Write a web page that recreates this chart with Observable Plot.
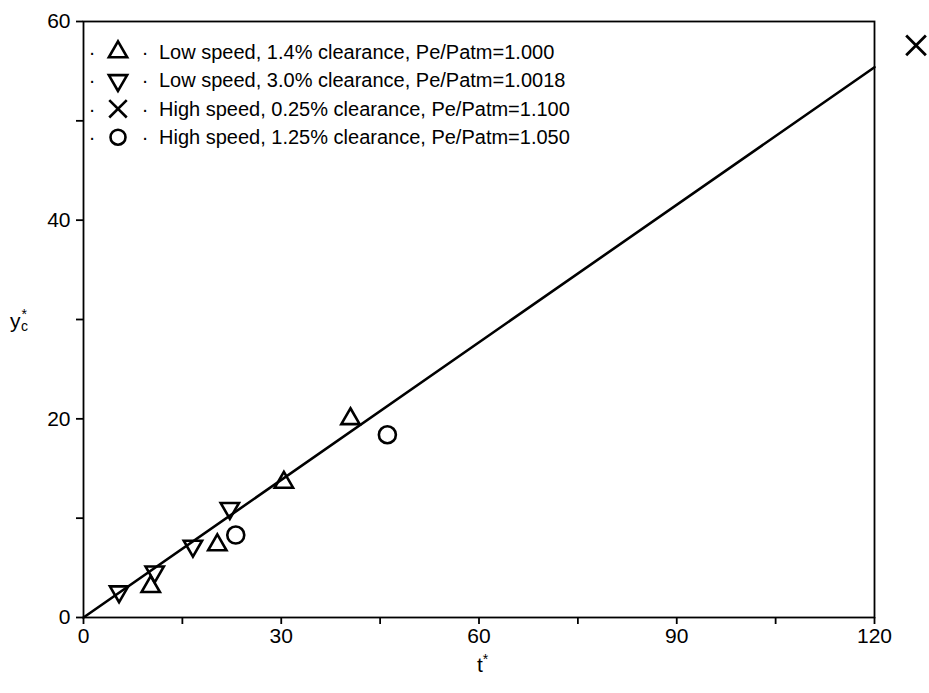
<!DOCTYPE html>
<html>
<head>
<meta charset="utf-8">
<script src="https://cdn.jsdelivr.net/npm/d3@7"></script>
<script src="https://cdn.jsdelivr.net/npm/@observablehq/plot@0.6"></script>
<style>
  html, body { margin: 0; padding: 0; background: #fff; }
  svg { display: block; }
  svg [aria-label$="tick label"] text { font-size: 21px !important; }
  svg text.lg { font-size: 20px !important; text-anchor: start; }
  svg text.lgc { font-size: 20px !important; text-anchor: middle; }
  svg text.ax { font-size: 21px !important; }
  svg tspan.sm { font-size: 14px !important; }
</style>
</head>
<body>
<div id="chart"></div>
<script>
// Series (t*, y_c*)
const low14T = [10.2, 20.3, 30.4, 40.5];
const low14Y = [3.1, 7.3, 13.6, 20.0];
const low30T = [5.4, 10.8, 16.6, 22.2];
const low30Y = [2.6, 4.6, 7.2, 11.0];
const high025T = [126.3];
const high025Y = [57.6];
const high125T = [23.1, 46.1];
const high125Y = [8.3, 18.4];
// Fitted line endpoints
const fitT = [0, 120];
const fitY = [0, 55.4];
// Ticks
const xMajor = [0, 30, 60, 90, 120];
const xMinor = [15, 45, 75, 105];
const yMajor = [0, 20, 40, 60];
const yMinor = [10, 30, 50];
// Legend
const legendLabels = [
  "Low speed, 1.4% clearance, Pe/Patm=1.000",
  "Low speed, 3.0% clearance, Pe/Patm=1.0018",
  "High speed, 0.25% clearance, Pe/Patm=1.100",
  "High speed, 1.25% clearance, Pe/Patm=1.050"
];

const zip = (xs, ys) => xs.map((x, i) => ({t: x, y: ys[i]}));
const font = "'Liberation Sans', Arial, Helvetica, sans-serif";

const plot = Plot.plot({
  width: 929,
  height: 693,
  marginLeft: 83,
  marginRight: 55,
  marginTop: 21,
  marginBottom: 76,
  style: {fontFamily: font, fontSize: "21px", color: "#000", background: "#fff"},
  x: {domain: [0, 120]},
  y: {domain: [0, 60]},
  marks: [
    Plot.frame({stroke: "#000", strokeWidth: 1.8}),
    Plot.axisX({ticks: xMajor, tickSize: 7, tickPadding: 4, strokeWidth: 1.8, label: null}),
    Plot.axisX({ticks: xMinor, tickSize: 7, tickFormat: () => "", strokeWidth: 1.8, label: null}),
    Plot.axisY({ticks: yMajor, tickSize: 7, tickPadding: 6, strokeWidth: 1.8, label: null}),
    Plot.axisY({ticks: yMinor, tickSize: 7, tickFormat: () => "", strokeWidth: 1.8, label: null}),
    Plot.line(zip(fitT, fitY), {x: "t", y: "y", stroke: "#000", strokeWidth: 2.6}),
    Plot.dot(zip(low14T, low14Y), {x: "t", y: "y", symbol: "triangle", r: 6.8, stroke: "#000", strokeWidth: 2.6, fill: "none"}),
    Plot.dot(zip(low30T, low30Y), {x: "t", y: "y", symbol: "triangle", rotate: 180, r: 6.8, stroke: "#000", strokeWidth: 2.6, fill: "none"}),
    Plot.dot(zip(high025T, high025Y), {x: "t", y: "y", symbol: "times", r: 9, stroke: "#000", strokeWidth: 2.8, fill: "none"}),
    Plot.dot(zip(high125T, high125Y), {x: "t", y: "y", symbol: "circle", r: 8.5, stroke: "#000", strokeWidth: 2.6, fill: "none"})
  ]
});

document.getElementById("chart").appendChild(plot);

const svg = d3.select(plot);
// axis labels
const tl = svg.append("text").attr("class", "ax")
  .attr("x", 477).attr("y", 672)
  .attr("text-anchor", "start")
  .attr("font-family", font);
tl.append("tspan").text("t");
tl.append("tspan").attr("class", "sm").attr("dy", -8).text("*");

const yl = svg.append("text").attr("class", "ax")
  .attr("x", 10).attr("y", 328)
  .attr("text-anchor", "start")
  .attr("font-family", font);
yl.append("tspan").text("y");
yl.append("tspan").attr("class", "sm").attr("dy", -9).attr("dx", 1).text("*");
yl.append("tspan").attr("class", "sm").attr("dy", 12).attr("dx", -6).text("c");

// legend
const symbols = [
  {type: d3.symbolTriangle, rot: 0, size: Math.PI * 6.8 * 6.8},
  {type: d3.symbolTriangle, rot: 180, size: Math.PI * 6.8 * 6.8},
  {type: d3.symbolTimes, rot: 0, size: Math.PI * 8 * 8},
  {type: d3.symbolCircle, rot: 0, size: Math.PI * 7.5 * 7.5}
];
const lg = svg.append("g").attr("font-family", font);
legendLabels.forEach((lab, i) => {
  const cy = 52 + i * 28.4;
  lg.append("text").attr("class", "lgc").attr("x", 92).attr("y", cy + 7).text("·");
  lg.append("path")
    .attr("d", d3.symbol(symbols[i].type, symbols[i].size)())
    .attr("transform", `translate(118,${cy}) rotate(${symbols[i].rot})`)
    .attr("fill", "none").attr("stroke", "#000").attr("stroke-width", 2.6);
  lg.append("text").attr("class", "lgc").attr("x", 145).attr("y", cy + 7).text("·");
  lg.append("text").attr("class", "lg").attr("x", 159).attr("y", cy + 7).text(lab);
});
</script>
</body>
</html>
